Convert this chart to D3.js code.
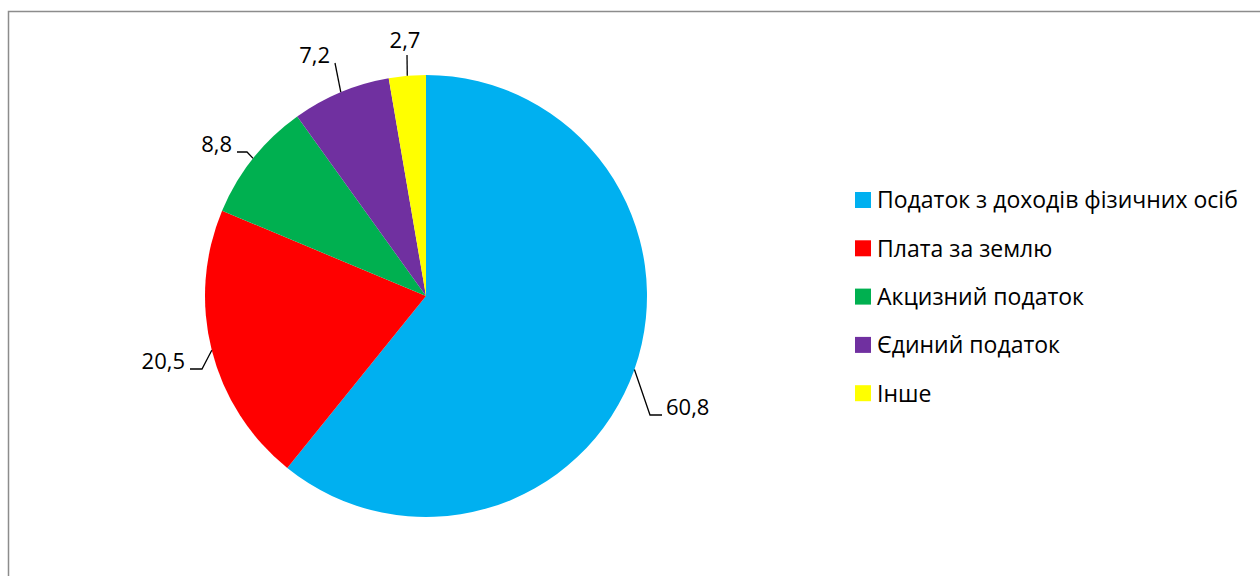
<!DOCTYPE html>
<html>
<head>
<meta charset="utf-8">
<script src="https://cdn.jsdelivr.net/npm/d3@7"></script>
<style>
  html, body { margin: 0; padding: 0; background: #fff; }
  svg { display: block; }
  text { font-family: "Open Sans", "Noto Sans", sans-serif; fill: #000; }
</style>
</head>
<body>
<svg id="chart" width="1260" height="576"></svg>
<script>
// ---- data ----
const categories = [
  "Податок з доходів фізичних осіб",
  "Плата за землю",
  "Акцизний податок",
  "Єдиний податок",
  "Інше"
];
const values = [60.8, 20.5, 8.8, 7.2, 2.7];
const labels = ["60,8", "20,5", "8,8", "7,2", "2,7"];
const colors = ["#00B0F0", "#FF0000", "#00B050", "#7030A0", "#FFFF00"];

// ---- layout ----
const W = 1260, H = 576;
const cx = 426, cy = 296, R = 221;
const svg = d3.select("#chart");

// border of chart area
svg.append("rect")
  .attr("x", 8.5).attr("y", 11.5)
  .attr("width", W + 20).attr("height", H + 20)
  .attr("fill", "none").attr("stroke", "#8c8c8c").attr("stroke-width", 1.5);

const data = categories.map((c, i) => ({ name: c, value: values[i], label: labels[i], color: colors[i] }));

const pie = d3.pie().value(d => d.value).sort(null);
const arc = d3.arc().innerRadius(0).outerRadius(R);
const arcs = pie(data);

const g = svg.append("g").attr("transform", `translate(${cx},${cy})`);
g.selectAll("path.slice").data(arcs).enter().append("path")
  .attr("class", "slice")
  .attr("d", arc)
  .attr("fill", d => d.data.color);

// label layout (relative to pie centre): text position & leader-line bends
const labelLayout = [
  { tx: 240, ty: 119, anchor: "start", pts: [[224, 119], [236, 119]] },
  { tx: -241, ty: 73, anchor: "end", pts: [[-224, 73], [-236, 73]] },
  { tx: -194, ty: -144, anchor: "end", pts: [[-179, -144], [-189, -144]] },
  { tx: -96, ty: -233, anchor: "end", pts: [[-91, -233]] },
  { tx: -21, ty: -248, anchor: "middle", pts: [[-19, -241]] }
];

arcs.forEach((a, i) => {
  const mid = (a.startAngle + a.endAngle) / 2;
  const p0 = [R * Math.sin(mid), -R * Math.cos(mid)];
  const L = labelLayout[i];
  const pts = [p0].concat(L.pts);
  g.append("path")
    .attr("d", d3.line()(pts))
    .attr("fill", "none").attr("stroke", "#000").attr("stroke-width", 1.3);
  g.append("text")
    .attr("x", L.tx).attr("y", L.ty)
    .attr("text-anchor", L.anchor)
    .attr("font-size", 22)
    .text(a.data.label);
});

// legend
const leg = svg.append("g").attr("transform", "translate(855,200)");
const rows = leg.selectAll("g").data(data).enter().append("g")
  .attr("transform", (d, i) => `translate(0,${i * 48.3})`);
rows.append("rect")
  .attr("x", 0).attr("y", -8).attr("width", 16).attr("height", 16)
  .attr("fill", d => d.color);
rows.append("text")
  .attr("x", 22).attr("y", 8.3)
  .attr("font-size", 23)
  .text(d => d.name);
</script>
</body>
</html>
